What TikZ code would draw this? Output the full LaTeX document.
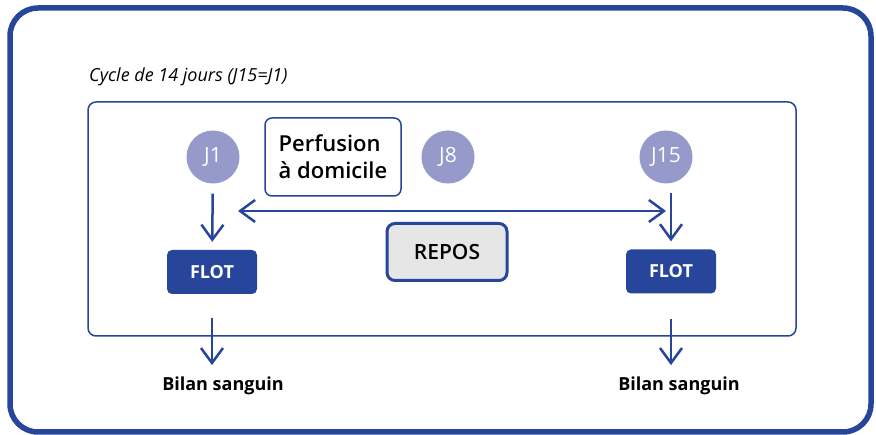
\documentclass[tikz,border=0pt]{standalone}
\usepackage{fontspec}
\setmainfont{Open Sans}
\newfontfamily\semib{Open Sans Semibold}
\usetikzlibrary{arrows.meta}

\definecolor{cycleblue}{HTML}{27459A}
\definecolor{daypurple}{HTML}{959ACB}
\definecolor{restgray}{HTML}{E6E6E6}

\begin{document}
\begin{tikzpicture}[x=1pt, y=-1pt,
    day/.style={circle, fill=daypurple, text=white, minimum size=53pt,
      inner sep=0pt, font=\fontsize{21}{23}\selectfont},
    flot/.style={rectangle, rounded corners=5pt, fill=cycleblue, text=white,
      minimum width=90pt, minimum height=44pt, font=\bfseries\fontsize{18}{20}\selectfont},
    bilan/.style={anchor=base, inner sep=2pt, font=\bfseries\fontsize{18}{20}\selectfont},
    flow/.style={draw=cycleblue, line width=2.5pt,
      arrows={-Straight Barb[length=15pt, width=22pt, line width=2.5pt]}}]
  \useasboundingbox (0,0) rectangle (876,435);

  % frames
  \draw[cycleblue, line width=5.5pt, rounded corners=28pt] (10,8) rectangle (871,432);
  \draw[cycleblue, line width=1.5pt, rounded corners=8pt] (88,102) rectangle (796,336);
  \node (caption) [anchor=base west, inner sep=0pt,
    font=\itshape\fontsize{18}{20}\selectfont] at (89,82) {Cycle de 14 jours (J15=J1)};

  % days
  \node (j1) [day] at (213,157) {J1};
  \node (j8) [day] at (448,157) {J8};
  \node (j15) [day] at (666,157) {J15};

  \node (perf) [draw=cycleblue, line width=1.5pt, rounded corners=7pt,
    minimum width=136pt, minimum height=78pt, align=left,
    font=\semib\fontsize{22}{27}\selectfont] at (333,157) {Perfusion\\à domicile};
  \node (repos) [draw=cycleblue, fill=restgray, line width=3pt, rounded corners=8pt,
    minimum width=120pt, minimum height=57pt,
    font=\semib\fontsize{21}{23}\selectfont] at (447,252) {REPOS};

  \node (flot1) [flot] at (212,272) {FLOT};
  \node (flot2) [flot] at (671,271.5) {FLOT};
  \node (bilan1) [bilan] at (223,391) {Bilan sanguin};
  \node (bilan2) [bilan] at (679,391) {Bilan sanguin};

  \coordinate (restL) at (238,211);
  \coordinate (restR) at (666,211);

  \draw[flow, shorten <=10pt, shorten >=8pt] (j1) -- (flot1);
  \draw[flow, shorten <=9pt, shorten >=8pt] (j15.south -| flot2.north) -- (flot2.north);
  \draw[flow, {Straight Barb[length=15pt, width=22pt, line width=2.5pt]}-{Straight Barb[length=15pt, width=22pt, line width=2.5pt]}]
    (restL) -- (restR);
  \draw[flow, shorten <=24pt, shorten >=10pt] (flot1.south) -- (flot1.south |- bilan1.north);
  \draw[flow, shorten <=25pt, shorten >=10pt] (flot2.south) -- (flot2.south |- bilan2.north);
\end{tikzpicture}
\end{document}
